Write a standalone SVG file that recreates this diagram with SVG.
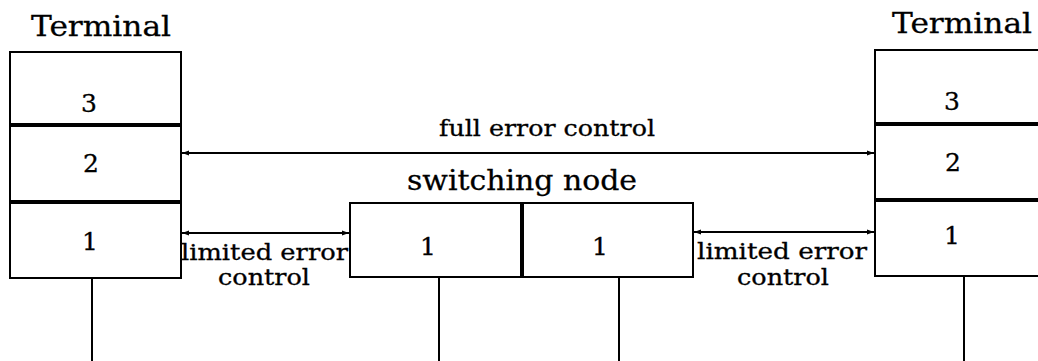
<svg xmlns="http://www.w3.org/2000/svg" width="1038" height="361" viewBox="0 0 1038 361">
<style>
.box{fill:#fff;stroke:#000;stroke-width:2}
.thick{stroke:#000;stroke-width:4}
.ln{stroke:#000;stroke-width:2;fill:none}
.t{font-family:"DejaVu Serif","Liberation Serif",serif;fill:#000;stroke:#000;stroke-width:0.3}
.big{font-size:28px}
.num{font-size:25px;text-anchor:middle}
.sm{font-size:22px}
</style>
<defs>
<marker id="ah" viewBox="0 0 10 10" refX="10" refY="5" markerWidth="9" markerHeight="7" orient="auto-start-reverse" markerUnits="userSpaceOnUse">
<path d="M0,1.5 L10,5 L0,8.5 z" fill="#000"/>
</marker>
</defs>
<rect width="1038" height="361" fill="#fff"/>
<g id="terminal-left">
<text class="t big" x="31" y="36" textLength="140" lengthAdjust="spacingAndGlyphs">Terminal</text>
<rect class="box" x="10" y="52" width="171" height="226"/>
<line class="thick" x1="10" y1="125" x2="181" y2="125"/>
<line class="thick" x1="10" y1="202" x2="181" y2="202"/>
<text class="t num" x="89" y="112">3</text>
<text class="t num" x="91" y="172">2</text>
<text class="t num" x="90" y="250">1</text>
<line class="ln" x1="92" y1="278" x2="92" y2="361"/>
</g>
<g id="terminal-right">
<text class="t big" x="892" y="33" textLength="140" lengthAdjust="spacingAndGlyphs">Terminal</text>
<rect class="box" x="875" y="50" width="175" height="226"/>
<line class="thick" x1="875" y1="124" x2="1040" y2="124"/>
<line class="thick" x1="875" y1="200" x2="1040" y2="200"/>
<text class="t num" x="952" y="110">3</text>
<text class="t num" x="953" y="171">2</text>
<text class="t num" x="952" y="244">1</text>
<line class="ln" x1="964" y1="276" x2="964" y2="361"/>
</g>
<g id="switching-node">
<text class="t big" x="407" y="190" textLength="230" lengthAdjust="spacingAndGlyphs">switching node</text>
<rect class="box" x="350" y="203" width="343" height="74"/>
<line class="thick" x1="522" y1="203" x2="522" y2="277"/>
<text class="t num" x="428" y="255">1</text>
<text class="t num" x="600" y="255">1</text>
<line class="ln" x1="439" y1="277" x2="439" y2="361"/>
<line class="ln" x1="619" y1="277" x2="619" y2="361"/>
</g>
<g id="connectors">
<line class="ln" x1="182" y1="153" x2="874" y2="153" marker-start="url(#ah)" marker-end="url(#ah)"/>
<line class="ln" x1="182" y1="233" x2="349" y2="233" marker-start="url(#ah)" marker-end="url(#ah)"/>
<line class="ln" x1="694" y1="232" x2="874" y2="232" marker-start="url(#ah)" marker-end="url(#ah)"/>
<text class="t sm" x="439" y="136" textLength="216" lengthAdjust="spacingAndGlyphs">full error control</text>
<text class="t sm" x="181" y="260" textLength="167" lengthAdjust="spacingAndGlyphs">limited error</text>
<text class="t sm" x="218" y="285" textLength="92" lengthAdjust="spacingAndGlyphs">control</text>
<text class="t sm" x="697" y="259" textLength="170" lengthAdjust="spacingAndGlyphs">limited error</text>
<text class="t sm" x="737" y="285" textLength="92" lengthAdjust="spacingAndGlyphs">control</text>
</g>
</svg>
